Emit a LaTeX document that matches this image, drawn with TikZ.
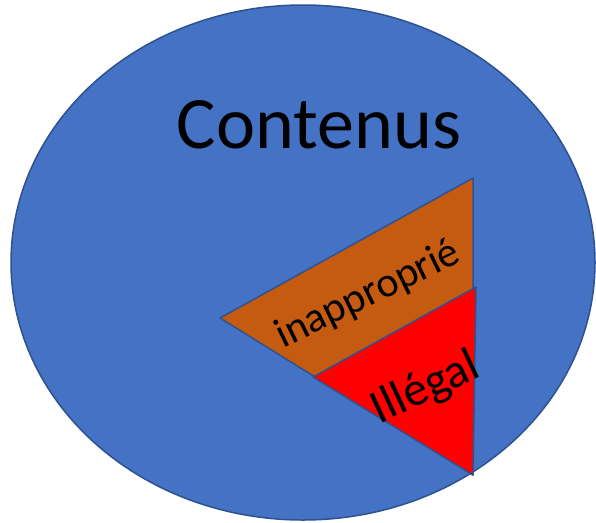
\documentclass[tikz,border=0pt]{standalone}
\usepackage{fontspec}
\setmainfont{Carlito}
\usepackage{tikz}
\usetikzlibrary{positioning,calc}

\definecolor{contentblue}{HTML}{4472C4}
\definecolor{edgeblue}{HTML}{2F528F}
\definecolor{unfitorange}{HTML}{C55A11}
\definecolor{illegalred}{HTML}{FF0000}

\tikzset{
 zone/.style={draw=edgeblue, line width=1.5pt, line join=round},
 label/.style={text=black, inner sep=0pt}
}

\begin{document}
\begin{tikzpicture}[x=1pt, y=-1pt]
 \useasboundingbox (0,0) rectangle (596,522);

 \fill[contentblue, draw=edgeblue, line width=1.5pt] (303,262.5) ellipse [x radius=292, y radius=257.5];

 \coordinate (apex) at (220,318);
 \coordinate (topright) at (473,178);
 \coordinate (bottomright) at (473,475);
 \coordinate (redleft) at (313,377);
 \coordinate (redtop) at (476,287);

 \filldraw[zone, fill=unfitorange] (apex) -- (topright) -- (bottomright) -- cycle;
 \filldraw[zone, fill=illegalred] (redleft) -- (redtop) -- (bottomright) -- cycle;

 \node[label, anchor=base, font=\fontsize{74}{80}\selectfont] (contenus) at (319,148) {Contenus};
 \node[label, anchor=base, rotate=26, font=\fontsize{42}{48}\selectfont] (inapproprie) at (373,305) {inapproprié};
 \node[label, anchor=base, rotate=25, font=\fontsize{48}{54}\selectfont] (illegal) at (431,400) {Illégal};
\end{tikzpicture}
\end{document}
